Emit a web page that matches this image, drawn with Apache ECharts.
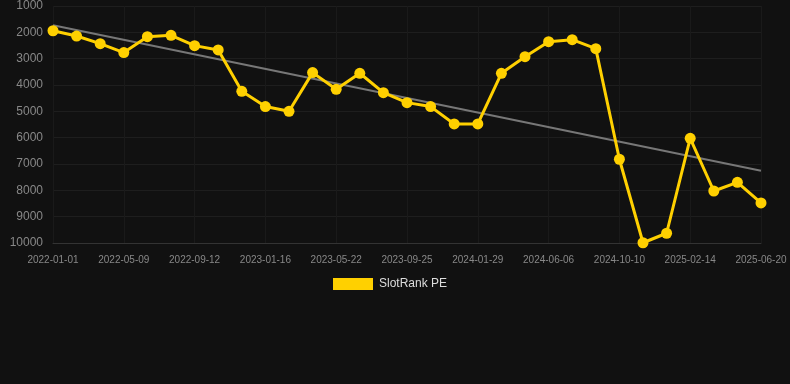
<!DOCTYPE html>
<html><head><meta charset="utf-8">
<script src="https://cdn.jsdelivr.net/npm/echarts@6/dist/echarts.min.js"></script>
<style>html,body{margin:0;padding:0;background:#111111;}#c{width:790px;height:384px;}</style>
</head><body><div id="c"></div>
<script>
var categories = [
 '2022-01-01','2022-02-12','2022-03-27','2022-05-09','2022-06-20','2022-08-01','2022-09-12',
 '2022-10-24','2022-12-05','2023-01-16','2023-02-27','2023-04-10','2023-05-22','2023-07-03',
 '2023-08-14','2023-09-25','2023-11-06','2023-12-18','2024-01-29','2024-03-14','2024-04-25',
 '2024-06-06','2024-07-18','2024-08-29','2024-10-10','2024-11-21','2025-01-03','2025-02-14',
 '2025-03-28','2025-05-09','2025-06-20'];
var rankValues = [1940,2140,2430,2770,2165,2115,2505,2670,4240,4820,5000,3530,4165,3555,4290,
 4670,4820,5480,5480,3555,2925,2355,2280,2620,6820,9990,9630,6025,8025,7695,8480];
var trendStart = 1734;
var trendEnd = 7255;
var yTicks = {min:1000, max:10000, interval:1000};

var chart = echarts.init(document.getElementById('c'), null, {renderer:'canvas'});
chart.setOption({
  backgroundColor:'#111111',
  animation:false,
  grid:{left:53, right:29, top:6, bottom:141, containLabel:false, outerBoundsMode:'none'},
  legend:{
    top:278, left:333, padding:0,
    itemWidth:40, itemHeight:12, itemGap:10,
    textStyle:{color:'#dddddd', fontSize:12, fontFamily:'Liberation Sans, Arial, sans-serif', padding:[0,0,0,1]},
    data:[{name:'SlotRank PE', icon:'rect'}]
  },
  xAxis:{
    type:'category', data:categories, boundaryGap:false,
    axisLine:{lineStyle:{color:'#333333'}},
    axisTick:{show:false},
    axisLabel:{color:'#888888', fontSize:10, interval:2, margin:12, fontFamily:'Liberation Sans, Arial, sans-serif'},
    splitLine:{show:true, interval:2, lineStyle:{color:'#1a1a1a'}}
  },
  yAxis:{
    type:'value', inverse:true, min:yTicks.min, max:yTicks.max, interval:yTicks.interval,
    axisLine:{show:false}, axisTick:{show:false},
    axisLabel:{color:'#888888', fontSize:12, margin:10, fontFamily:'Liberation Sans, Arial, sans-serif',
      formatter:function(v){return String(v);}},
    splitLine:{lineStyle:{color:'#1e1e1e'}}
  },
  series:[
    {
      name:'Trend', type:'line', data:[[0,trendStart],[categories.length-1,trendEnd]],
      symbol:'none', lineStyle:{color:'#777777', width:2}, z:1, silent:true
    },
    {
      name:'SlotRank PE', type:'line', data:rankValues,
      symbol:'circle', symbolSize:11,
      itemStyle:{color:'#FFD000'},
      lineStyle:{color:'#FFD000', width:3}, z:3
    }
  ]
});
</script></body></html>
